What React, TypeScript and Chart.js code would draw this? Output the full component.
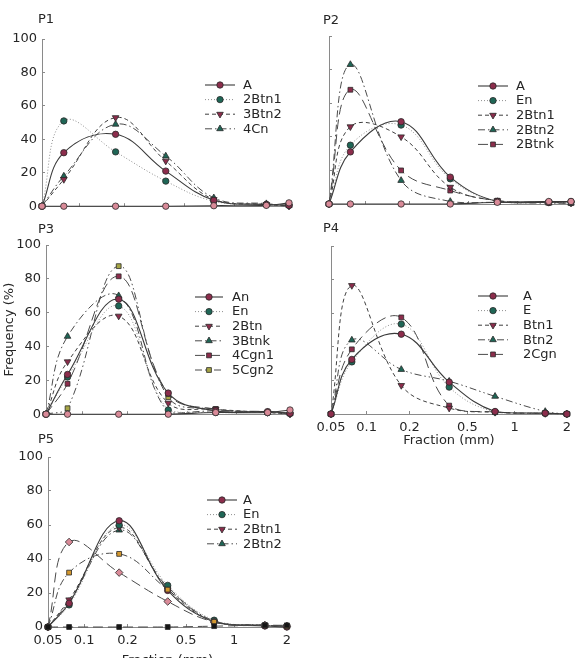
import { useEffect, useRef } from 'react';
import { Chart, registerables, LinearScale, PointElement } from 'chart.js';

Chart.register(...registerables);

// Class midpoints of the sieve fractions (mm), with the 0.05 and 2 mm limits at both ends
const fractions = [0.05, 0.075, 0.175, 0.375, 0.75, 1.5, 2];
const fractionTicks = [0.05, 0.1, 0.2, 0.5, 1, 2];

// P1
const p1Blank = [0, 0, 0, 0, 0.3, 0.5, 2];
const p1A = [0, 32, 43, 21, 3.5, 1, 0.5];
const p1Btn1 = [0, 51, 32.5, 15, 3, 1, 0.5];
const p1Btn2 = [0, 16, 53, 27, 4, 1, 0];
const p1Cn = [0, 18, 49, 30, 5, 1.5, 0.5];

// P2
const p2Blank = [0, 0, 0, 0, 1, 1.5, 1.5];
const p2A = [0, 31, 49, 16, 1.5, 1, 1.5];
const p2En = [0, 35, 47, 15, 1.5, 1, 1];
const p2Btn1 = [0, 46, 40, 10, 2, 1, 0.5];
const p2Btn2 = [0, 83, 14, 1.5, 1, 0.5, 0.5];
const p2Btnk = [0, 68, 20, 8, 2, 1, 0.5];

// P3
const p3Blank = [0, 0, 0, 0, 1, 1, 2.5];
const p3An = [0, 23.5, 68, 12.5, 2, 1.5, 0.5];
const p3En = [0, 22, 64, 2.5, 1, 1, 0.5];
const p3Btn = [0, 31, 58, 6.5, 3, 1, 0];
const p3Btnk = [0, 46, 70, 1, 2, 1, 0.5];
const p3Cgn1 = [0, 18, 81.5, 12, 3, 1.5, 0.5];
const p3Cgn2 = [0, 3.5, 87.5, 10, 3, 1, 0.5];

// P4
const p4A = [0, 32.5, 47.5, 19, 1.5, 0.5, 0];
const p4E = [0, 31, 53.5, 16, 1.2, 0.5, 0];
const p4Btn1 = [0, 76.5, 17, 3.5, 1, 0.3, 0];
const p4Btn2 = [0, 44, 26.5, 19.5, 10.5, 1.5, 0];
const p4Cgn = [0, 38.5, 57.5, 5, 1.2, 0.3, 0];

// P5
const p5Blank = [0, 0, 0, 0, 0.5, 1, 1];
const p5SetA = [0, 32, 43, 22, 3, 1, 0.5];
const p5SetB = [0, 50, 32, 15, 3, 1, 0.5];
const p5A = [0, 14, 62.5, 21.5, 3, 0.6, 0];
const p5En = [0, 13, 60, 24.5, 4, 1, 0.5];
const p5Btn1 = [0, 16, 58.5, 22.5, 3, 1, 0.3];
const p5Btn2 = [0, 15, 57, 23.5, 3.5, 1, 0.5];

// Fraction axis: logarithmic between neighbouring labelled sizes, each size at its share of the axis length
const fractionAxisStops: [number, number][] = [
  [0.05, 0],
  [0.1, 0.151],
  [0.2, 0.333],
  [0.5, 0.578],
  [1, 0.779],
  [2, 1],
];

class FractionScale extends LinearScale {
  static id = 'fraction';
  static defaults = LinearScale.defaults;

  buildTicks() {
    return fractionTicks.map((value) => ({ value }));
  }

  toDecimal(value: number) {
    const s = fractionAxisStops;
    if (value <= s[0][0]) return s[0][1];
    for (let i = 1; i < s.length; i++) {
      const [v0, d0] = s[i - 1];
      const [v1, d1] = s[i];
      if (value <= v1) return d0 + ((d1 - d0) * Math.log(value / v0)) / Math.log(v1 / v0);
    }
    return s[s.length - 1][1];
  }

  getPixelForValue(value: number) {
    if (value === null || value === undefined) return NaN;
    return this.getPixelForDecimal(this.toDecimal(value));
  }

  getValueForPixel(pixel: number) {
    const d = this.getDecimalForPixel(pixel);
    const s = fractionAxisStops;
    for (let i = 1; i < s.length; i++) {
      const [v0, d0] = s[i - 1];
      const [v1, d1] = s[i];
      if (d <= d1 || i === s.length - 1) return v0 * Math.pow(v1 / v0, (d - d0) / (d1 - d0));
    }
    return s[s.length - 1][0];
  }
}
Chart.register(FractionScale);

const FONT = "'DejaVu Sans', sans-serif";
const TEXT = '#262626';
const AXIS = '#8a8a8a';

const MAROON = '#8c2d4c';
const TEAL = '#1f6656';
const PINK = '#d98a98';
const OLIVE = '#a6a545';
const GOLD = '#d4982f';
const INK = '#151515';

const lineStyles: Record<string, { dash: number[]; color: string; width: number }> = {
  solid: { dash: [], color: '#3a3a3a', width: 1.1 },
  dotted: { dash: [1, 2], color: '#8f8f8f', width: 1 },
  dashed: { dash: [4, 3], color: '#3f3f3f', width: 1 },
  dashDot: { dash: [7, 3, 1.5, 3], color: '#4a4a4a', width: 1 },
  dashDotDot: { dash: [7, 3, 1.5, 3, 1.5, 3], color: '#4a4a4a', width: 1 },
  longDash: { dash: [10, 5], color: '#4a4a4a', width: 1 },
};

const markers: Record<string, { style: string; rotation: number; radius: number }> = {
  circle: { style: 'circle', rotation: 0, radius: 3.2 },
  up: { style: 'triangle', rotation: 0, radius: 3.8 },
  down: { style: 'triangle', rotation: 180, radius: 3.8 },
  square: { style: 'rect', rotation: 0, radius: 3.4 },
  diamond: { style: 'rectRot', rotation: 0, radius: 3.8 },
};

type Series = { label: string; data: number[]; line: string; marker: string; color: string };

type Panel = {
  name: string;
  series: Series[];
  canvas: { left: number; top: number; width: number; height: number };
  area: { l: number; t: number; r: number; b: number };
  xAxisHeight: number;
  yLabels: boolean;
  xLabels: boolean;
  yTitle?: string;
  xTitle?: string;
  titleAt: { x: number; y: number };
  legendAt: { x: number; y: number; textX: number; len: number };
};

const panels: Panel[] = [
  {
    name: 'P1',
    series: [
      { label: '', data: p1Blank, line: 'solid', marker: 'circle', color: PINK },
      { label: 'A', data: p1A, line: 'solid', marker: 'circle', color: MAROON },
      { label: '2Btn1', data: p1Btn1, line: 'dotted', marker: 'circle', color: TEAL },
      { label: '3Btn2', data: p1Btn2, line: 'dashed', marker: 'down', color: MAROON },
      { label: '4Cn', data: p1Cn, line: 'dashDot', marker: 'up', color: TEAL },
    ],
    canvas: { left: 0, top: 0, width: 300, height: 222 },
    area: { l: 42, t: 39, r: 289, b: 209 },
    xAxisHeight: 6,
    yLabels: true,
    xLabels: false,
    titleAt: { x: 38, y: 20 },
    legendAt: { x: 205, y: 85, textX: 243, len: 30 },
  },
  {
    name: 'P2',
    series: [
      { label: '', data: p2Blank, line: 'solid', marker: 'circle', color: PINK },
      { label: 'A', data: p2A, line: 'solid', marker: 'circle', color: MAROON },
      { label: 'En', data: p2En, line: 'dotted', marker: 'circle', color: TEAL },
      { label: '2Btn1', data: p2Btn1, line: 'dashed', marker: 'down', color: MAROON },
      { label: '2Btn2', data: p2Btn2, line: 'dashDot', marker: 'up', color: TEAL },
      { label: '2Btnk', data: p2Btnk, line: 'longDash', marker: 'square', color: MAROON },
    ],
    canvas: { left: 290, top: 0, width: 290, height: 222 },
    area: { l: 39, t: 36, r: 282, b: 204 },
    xAxisHeight: 6,
    yLabels: false,
    xLabels: false,
    titleAt: { x: 33, y: 21 },
    legendAt: { x: 188, y: 86, textX: 226, len: 30 },
  },
  {
    name: 'P3',
    series: [
      { label: '', data: p3Blank, line: 'solid', marker: 'circle', color: PINK },
      { label: 'An', data: p3An, line: 'solid', marker: 'circle', color: MAROON },
      { label: 'En', data: p3En, line: 'dotted', marker: 'circle', color: TEAL },
      { label: '2Btn', data: p3Btn, line: 'dashed', marker: 'down', color: MAROON },
      { label: '3Btnk', data: p3Btnk, line: 'dashDot', marker: 'up', color: TEAL },
      { label: '4Cgn1', data: p3Cgn1, line: 'longDash', marker: 'square', color: MAROON },
      { label: '5Cgn2', data: p3Cgn2, line: 'dashDotDot', marker: 'square', color: OLIVE },
    ],
    canvas: { left: 0, top: 220, width: 300, height: 210 },
    area: { l: 46, t: 25, r: 290, b: 195 },
    xAxisHeight: 6,
    yLabels: true,
    xLabels: false,
    yTitle: 'Frequency (%)',
    titleAt: { x: 38, y: 10 },
    legendAt: { x: 195, y: 77, textX: 232, len: 28 },
  },
  {
    name: 'P4',
    series: [
      { label: 'A', data: p4A, line: 'solid', marker: 'circle', color: MAROON },
      { label: 'E', data: p4E, line: 'dotted', marker: 'circle', color: TEAL },
      { label: 'Btn1', data: p4Btn1, line: 'dashed', marker: 'down', color: MAROON },
      { label: 'Btn2', data: p4Btn2, line: 'dashDotDot', marker: 'up', color: TEAL },
      { label: '2Cgn', data: p4Cgn, line: 'longDash', marker: 'square', color: MAROON },
    ],
    canvas: { left: 290, top: 220, width: 290, height: 232 },
    area: { l: 41, t: 26, r: 283, b: 194 },
    xAxisHeight: 34,
    yLabels: false,
    xLabels: true,
    xTitle: 'Fraction (mm)',
    titleAt: { x: 33, y: 9 },
    legendAt: { x: 188, y: 76, textX: 233, len: 30 },
  },
  {
    name: 'P5',
    series: [
      { label: '', data: p5Blank, line: 'longDash', marker: 'square', color: INK },
      { label: '', data: p5SetA, line: 'dashDot', marker: 'square', color: GOLD },
      { label: '', data: p5SetB, line: 'longDash', marker: 'diamond', color: PINK },
      { label: 'A', data: p5A, line: 'solid', marker: 'circle', color: MAROON },
      { label: 'En', data: p5En, line: 'dotted', marker: 'circle', color: TEAL },
      { label: '2Btn1', data: p5Btn1, line: 'dashed', marker: 'down', color: MAROON },
      { label: '2Btn2', data: p5Btn2, line: 'dashDot', marker: 'up', color: TEAL },
    ],
    canvas: { left: 0, top: 430, width: 300, height: 240 },
    area: { l: 48, t: 27, r: 289, b: 197 },
    xAxisHeight: 41,
    yLabels: true,
    xLabels: true,
    xTitle: 'Fraction (mm)',
    titleAt: { x: 38, y: 10 },
    legendAt: { x: 207, y: 70, textX: 243, len: 30 },
  },
];

function makeDecor(panel: Panel) {
  return {
    id: 'panelDecor',
    afterDatasetsDraw(chart: any) {
      const ctx = chart.ctx;
      ctx.save();
      ctx.font = `13px ${FONT}`;
      ctx.fillStyle = TEXT;
      ctx.textAlign = 'left';
      ctx.textBaseline = 'middle';
      ctx.fillText(panel.name, panel.titleAt.x, panel.titleAt.y);

      const { x, y, textX, len } = panel.legendAt;
      let row = 0;
      chart.data.datasets.forEach((ds: any) => {
        if (!ds.label) return;
        const yy = y + row * 14.6;
        row += 1;
        ctx.save();
        ctx.strokeStyle = ds.borderColor;
        ctx.lineWidth = ds.borderWidth;
        ctx.setLineDash(ds.borderDash);
        ctx.beginPath();
        ctx.moveTo(x, yy);
        ctx.lineTo(x + len, yy);
        ctx.stroke();
        ctx.setLineDash([]);
        const pt: any = new PointElement({
          x: x + len / 2,
          y: yy,
          options: {
            pointStyle: ds.pointStyle,
            rotation: ds.pointRotation,
            radius: ds.pointRadius,
            borderWidth: ds.pointBorderWidth,
            backgroundColor: ds.pointBackgroundColor,
            borderColor: ds.pointBorderColor,
          },
        } as any);
        pt.draw(ctx, chart.chartArea);
        ctx.restore();
        ctx.fillStyle = TEXT;
        ctx.font = `13px ${FONT}`;
        ctx.fillText(ds.label, textX, yy + 0.5);
      });
      ctx.restore();
    },
  };
}

function PanelChart({ panel }: { panel: Panel }) {
  const ref = useRef<HTMLCanvasElement | null>(null);

  useEffect(() => {
    const { canvas, area } = panel;
    const tickFont = { family: FONT, size: 13 };
    const chart = new Chart(ref.current as HTMLCanvasElement, {
      type: 'line',
      data: {
        datasets: panel.series.map((s) => {
          const ls = lineStyles[s.line];
          const mk = markers[s.marker];
          return {
            label: s.label,
            data: fractions.map((f, i) => ({ x: f, y: s.data[i] })),
            borderColor: ls.color,
            borderDash: ls.dash,
            borderWidth: ls.width,
            tension: 0.4,
            fill: false,
            pointStyle: mk.style,
            pointRotation: mk.rotation,
            pointRadius: mk.radius,
            pointBackgroundColor: s.color,
            pointBorderColor: '#2a2a2a',
            pointBorderWidth: 0.8,
            clip: { left: 6, right: 6, top: 6, bottom: 4 },
          };
        }),
      },
      options: {
        animation: false,
        responsive: false,
        maintainAspectRatio: false,
        events: [],
        layout: {
          padding: {
            left: 0,
            top: area.t,
            right: canvas.width - area.r,
            bottom: canvas.height - area.b - panel.xAxisHeight,
          },
        },
        plugins: {
          legend: { display: false },
          tooltip: { enabled: false },
          title: { display: false },
        },
        scales: {
          x: {
            type: 'fraction',
            min: 0.05,
            max: 2,
            afterFit: (scale: any) => {
              scale.height = panel.xAxisHeight;
            },
            grid: {
              display: true,
              drawOnChartArea: false,
              drawTicks: true,
              tickLength: -3,
              tickColor: AXIS,
              color: AXIS,
            },
            border: { display: true, color: AXIS, width: 1 },
            ticks: {
              autoSkip: false,
              maxRotation: 0,
              minRotation: 0,
              padding: 9,
              color: TEXT,
              font: tickFont,
              callback: (v: any) => (panel.xLabels ? String(v) : ''),
            },
            title: {
              display: !!panel.xTitle,
              text: panel.xTitle || '',
              color: TEXT,
              font: tickFont,
              padding: { top: 0, bottom: 0 },
            },
          } as any,
          y: {
            type: 'linear',
            min: 0,
            max: 100,
            afterFit: (scale: any) => {
              scale.width = area.l;
            },
            grid: {
              display: true,
              drawOnChartArea: false,
              drawTicks: true,
              tickLength: -3,
              tickColor: AXIS,
              color: AXIS,
            },
            border: { display: true, color: AXIS, width: 1 },
            ticks: {
              stepSize: 10,
              padding: 8,
              color: TEXT,
              font: tickFont,
              callback: (v: any) => (panel.yLabels && v % 20 === 0 ? String(v) : ''),
            },
            title: {
              display: !!panel.yTitle,
              text: panel.yTitle || '',
              color: TEXT,
              font: tickFont,
              padding: { top: 2, bottom: 0 },
            },
          },
        },
      },
      plugins: [makeDecor(panel)],
    } as any);
    return () => chart.destroy();
  }, [panel]);

  const { left, top, width, height } = panel.canvas;
  return (
    <canvas
      ref={ref}
      width={width}
      height={height}
      style={{ position: 'absolute', left, top, width, height }}
    />
  );
}

export default function App() {
  return (
    <div
      style={{
        position: 'absolute',
        left: 0,
        top: 0,
        width: 580,
        height: 658,
        overflow: 'hidden',
        background: '#ffffff',
      }}
    >
      {panels.map((p) => (
        <PanelChart key={p.name} panel={p} />
      ))}
    </div>
  );
}
